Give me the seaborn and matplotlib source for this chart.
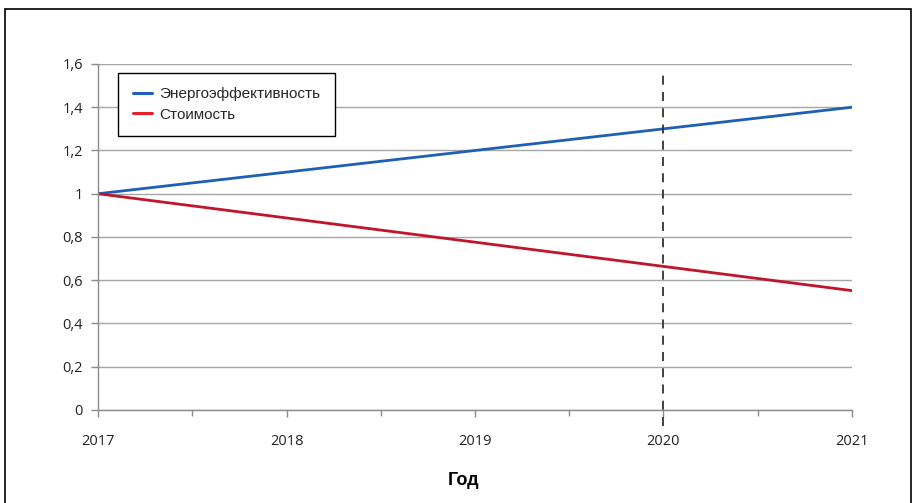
import matplotlib
matplotlib.use("Agg")
import matplotlib.pyplot as plt
from matplotlib.patches import Rectangle
from matplotlib.lines import Line2D
from matplotlib.ticker import MultipleLocator, FuncFormatter
import seaborn as sns
import pandas as pd

years = [2017, 2018, 2019, 2020, 2021]
efficiency = [1.0, 1.1, 1.2, 1.3, 1.4]
cost = [1.0, 0.888, 0.776, 0.664, 0.552]
series_names = ["Энергоэффективность", "Стоимость"]
marker_year = 2020

df = pd.DataFrame({
    "Год": years * 2,
    "value": efficiency + cost,
    "series": [series_names[0]] * len(years) + [series_names[1]] * len(years),
})

sns.set_theme(style="white")
plt.rcParams["font.family"] = ["Open Sans", "DejaVu Sans"]

fig = plt.figure(figsize=(9.17, 5.03), dpi=100)
ax = fig.add_axes([0.1069, 0.1849, 0.8222, 0.6879])

palette = {series_names[0]: "#1f5fb4", series_names[1]: "#c0152a"}
sns.lineplot(data=df, x="Год", y="value", hue="series", palette=palette,
             linewidth=2.0, ax=ax, legend=False)

ax.set_xlim(2017, 2021)
ax.set_ylim(0, 1.6)
ax.yaxis.set_major_locator(MultipleLocator(0.2))
ax.xaxis.set_major_locator(MultipleLocator(1))
ax.xaxis.set_minor_locator(MultipleLocator(0.5))
ax.yaxis.set_major_formatter(FuncFormatter(
    lambda v, p: "0" if abs(v) < 1e-9 else ("1" if abs(v - 1) < 1e-9 else f"{v:.1f}".replace(".", ","))))
ax.xaxis.set_major_formatter(FuncFormatter(lambda v, p: f"{int(round(v))}"))

ax.grid(axis="y", color="#a6a6a6", linewidth=1.0)
ax.set_axisbelow(True)
for side in ["top", "right"]:
    ax.spines[side].set_visible(False)
for side in ["left", "bottom"]:
    ax.spines[side].set_color("#8c8c8c")
    ax.spines[side].set_linewidth(1.0)

ax.tick_params(axis="both", which="both", direction="out", color="#8c8c8c",
               labelsize=10.5, labelcolor="#222222")
ax.tick_params(axis="x", which="major", length=5, width=1, pad=12, bottom=True)
ax.tick_params(axis="x", which="minor", length=4, width=1, bottom=True)
ax.tick_params(axis="y", which="major", length=5, width=1, pad=6, left=True)

ax.axvline(marker_year, ymin=-0.045, ymax=0.985, color="#333333", linestyle=(0, (5, 4)),
           linewidth=1.3, clip_on=False)

ax.set_xlabel("")
ax.set_ylabel("")

handles = [Line2D([], [], color="#1f5fbf", linewidth=2.2),
           Line2D([], [], color="#e8202a", linewidth=2.2)]
leg = ax.legend(handles, series_names, loc="upper left", bbox_to_anchor=(0.0265, 0.974),
                borderaxespad=0, frameon=True, fancybox=False, edgecolor="black", framealpha=1,
                prop={"family": ["Liberation Sans Narrow", "Liberation Sans", "DejaVu Sans"], "size": 11},
                handlelength=1.3, handletextpad=0.45, borderpad=0.95, labelspacing=0.4)
leg.get_frame().set_linewidth(1.0)

fig.text(0.505, 0.044, "Год", ha="center", va="center", fontsize=13, fontweight="bold",
         family=["Liberation Sans Narrow", "Liberation Sans", "DejaVu Sans"], color="black")

fig.patches.append(Rectangle((5 / 917, -0.01), 906 / 917, 1 - 9 / 503 + 0.01,
                             transform=fig.transFigure, fill=False, edgecolor="black",
                             linewidth=1.2))

fig.savefig("out.png", dpi=100)
